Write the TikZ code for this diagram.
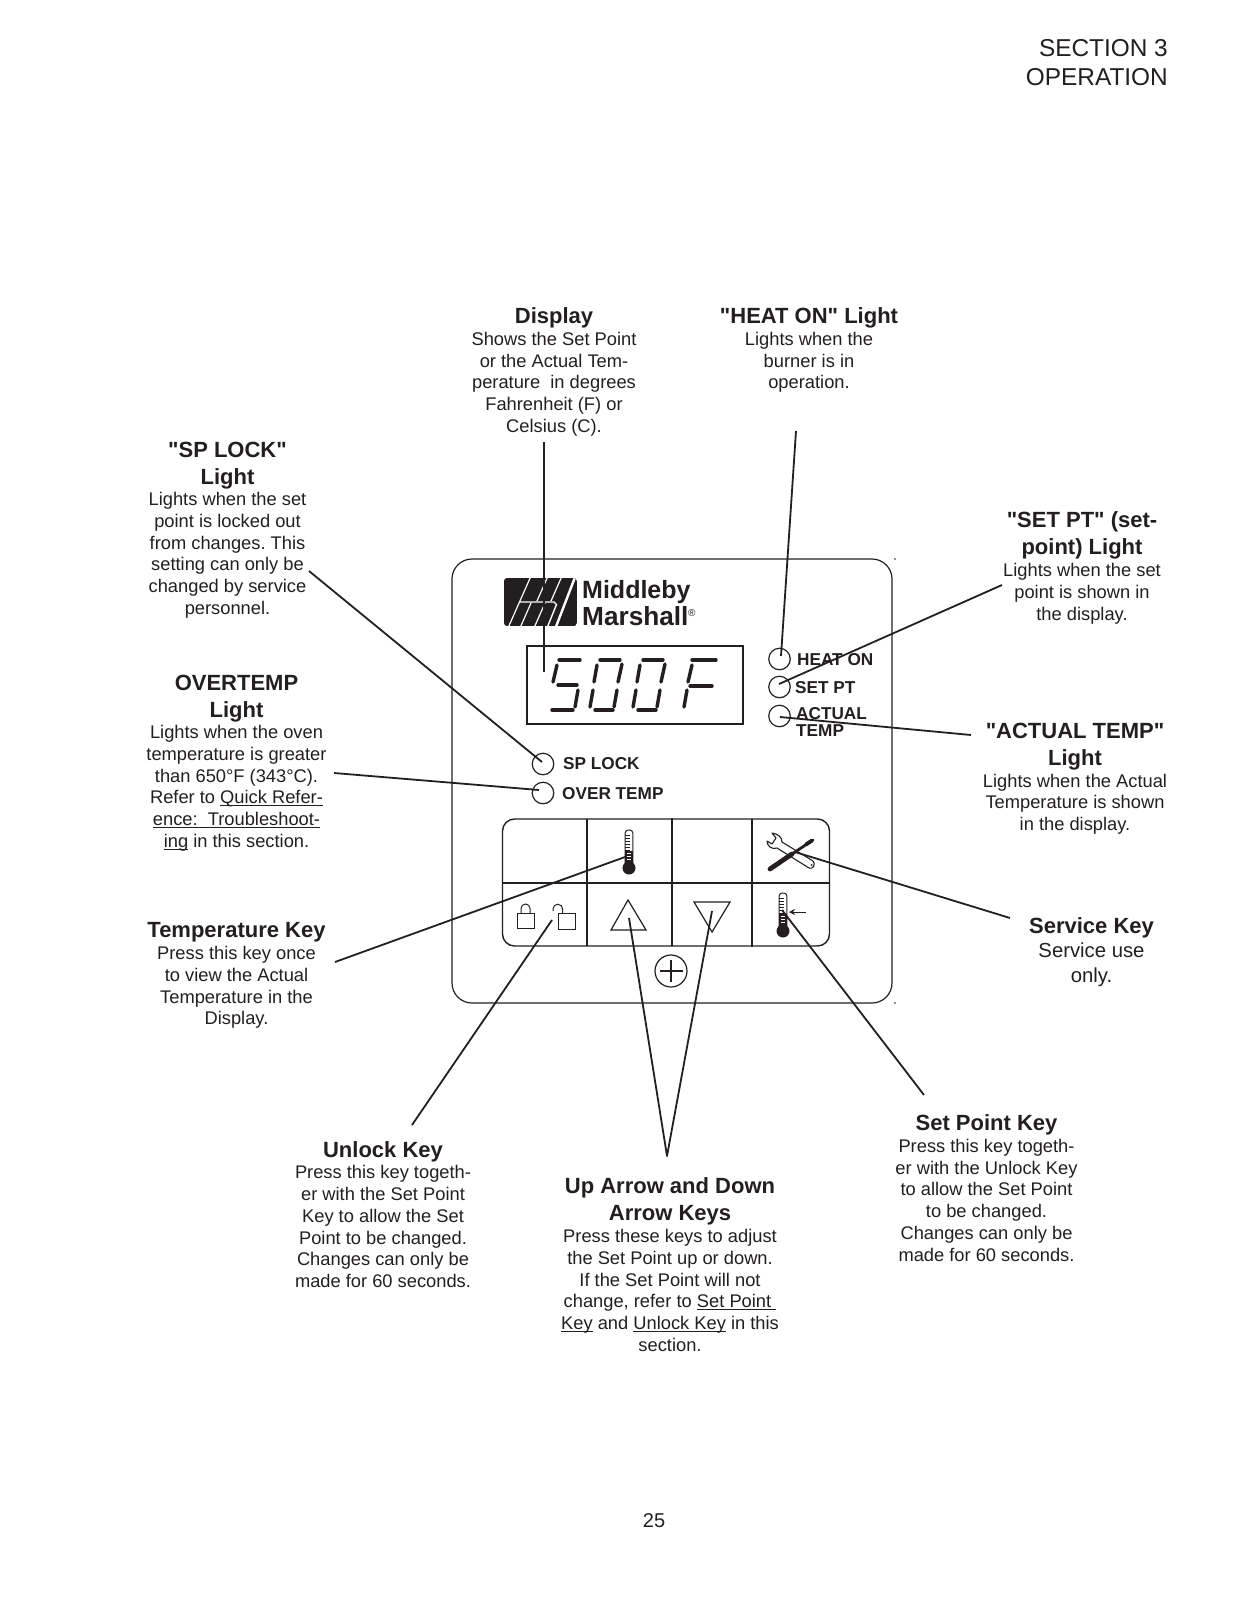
\documentclass[tikz,border=0pt]{standalone}
\usepackage{fontspec}
\usetikzlibrary{arrows.meta}
\setmainfont{Liberation Sans}[Ligatures=TeXOff]
\frenchspacing
\definecolor{ink}{HTML}{231F20}
\newcommand{\hd}[1]{{\fontsize{22}{26}\selectfont\bfseries #1}}
\newsavebox{\ulbox}
\newcommand{\ul}[1]{\sbox{\ulbox}{#1}\rlap{\rule[-2.4pt]{\wd\ulbox}{1.1pt}}\usebox{\ulbox}}
\tikzset{
  block/.style={align=center,anchor=north,inner sep=0pt,text=ink,font=\fontsize{18.3}{21.75}\selectfont},
  lamp/.style={circle,draw=ink,line width=1.2pt,minimum size=21.5pt,inner sep=0pt},
  tag/.style={anchor=base west,inner sep=0pt,text=ink,font=\fontsize{17.2}{17.2}\selectfont\bfseries},
  leader/.style={draw=ink,line width=1.8pt,line join=round},
  keyline/.style={draw=ink,line width=1.4pt},
  seg/.style={draw=ink,line width=3.4pt,line cap=round},
}
\newcommand{\thermo}[3]{% x, top y, bulb y
  \fill[ink] (#1,#3) circle (6.5);
  \draw[ink,line width=1pt,rounded corners=3pt] (#1-3.8,#3-4)--(#1-3.8,#2)--(#1+3.8,#2)--(#1+3.8,#3-4);
  \fill[ink] (#1-3.8,#2+21) rectangle (#1+3.8,#3);
  \foreach \k in {5,8,...,20}{\draw[ink,line width=.6pt] (#1-3.8,#2+\k)--(#1+1,#2+\k);}
  \foreach \k in {23,26,29}{\draw[white,line width=.8pt] (#1-2,#2+\k)--(#1+2,#2+\k);}
}
\newcommand{\digitseg}[1]{%
  \foreach \a/\b/\c/\d in {#1}{\draw[seg] (\a,\b)--(\c,\d);}
}
\begin{document}
\begin{tikzpicture}[x=1pt,y=-1pt]
\useasboundingbox (0,0) rectangle (1237,1600);
\fill[white] (0,0) rectangle (1237,1600);

% header and page number
\node[anchor=north east,align=right,inner sep=0pt,text=ink,font=\fontsize{24.4}{29}\selectfont] (header) at (1168,39) {SECTION 3\\OPERATION};
\node[inner sep=0pt,text=ink,font=\fontsize{20}{24}\selectfont] (pageno) at (654,1521) {25};

% panel
\node[draw=ink,line width=1.2pt,rounded corners=20pt,minimum width=440pt,minimum height=444pt,inner sep=0pt] (panel) at (672,781) {};
\fill[ink] (895,559) circle (.8);
\fill[ink] (895,1003) circle (.8);

% logo
\begin{scope}
\clip[rounded corners=3pt] (504,578) rectangle (577,626);
\fill[ink] (504,578) rectangle (577,626);
\draw[white,line width=2.4pt] (575.5,576)--(555.5,628);
\draw[white,line width=1.2pt] (508,628)--(531,576);
\draw[white,line width=1.2pt] (520,628)--(531,603);
\draw[white,line width=1.2pt] (534,628)--(545,603);
\draw[white,line width=1.2pt] (537,601)--(548,576);
\draw[white,line width=1.2pt] (551,601)--(562,576);
\draw[white,line width=1.4pt] (520,602)--(554,602) -- (556.5,604.5) -- (547,628);
\end{scope}
\node[anchor=base west,inner sep=0pt,text=ink,font=\fontsize{25}{25}\selectfont\bfseries] (logoa) at (582,598.5) {Middleby};
\node[anchor=base west,inner sep=0pt,text=ink,font=\fontsize{26.2}{26.2}\selectfont\bfseries] (logob) at (582,625) {Marshall};
\node[anchor=base west,inner sep=0pt,text=ink,font=\fontsize{10}{10}\selectfont] (logor) at (688,616) {®};

% display
\node[draw=ink,line width=1.2pt,minimum width=216pt,minimum height=78pt,inner sep=0pt] (screen) at (635,685) {};
\digitseg{559/660/580/660, 557/665/553/682, 558/685/577/685, 578/690/575/707, 552/710/573/710}
\digitseg{600/660/620/660, 597/665/594/682, 622/664/618/682, 593/690/590/707, 617/690/614/707, 595/710/613/710}
\digitseg{643/660/663/660, 640/665/637/682, 665/664/661/682, 636/690/633/707, 660/690/657/707, 638/710/656/710}
\digitseg{692/660/716/660, 692/665/688/682, 690/686/712/686, 687/690/684/707}

% lamps and tags
\node[lamp] (lampheat) at (779.5,659) {};
\node[lamp] (lampset) at (779.5,687) {};
\node[lamp] (lampactual) at (779.5,716) {};
\node[lamp] (lampsp) at (543,764) {};
\node[lamp] (lampover) at (543,793) {};
\node[tag] (tagheat) at (797,665) {HEAT ON};
\node[tag] (tagset) at (795,693) {SET PT};
\node[tag] (tagactual) at (796,719) {ACTUAL};
\node[tag] (tagtemp) at (796,736) {TEMP};
\node[tag] (tagsp) at (563,769) {SP LOCK};
\node[tag] (tagover) at (562,799) {OVER TEMP};

% keypad
\node[keyline,draw,rounded corners=12pt,minimum width=327pt,minimum height=127pt,inner sep=0pt] (keypad) at (666,882.5) {};
\draw[keyline] (keypad.west |- 0,883) -- (keypad.east |- 0,883);
\draw[keyline] (587,819)--(587,946);
\draw[keyline] (672,818)--(672,946);
\draw[keyline] (752,819)--(752,947);

\thermo{629}{830}{868}
\thermo{783}{893}{931}
\draw[ink,line width=1pt,-{Stealth[length=6pt,width=6pt]}] (806,912)--(789,912);

% locks
\draw[ink,line width=1pt] (517,913) rectangle (534,928);
\draw[ink,line width=1pt] (521,913)--(521,908.5) arc[start angle=180,end angle=360,radius=4.5] --(530,913);
\draw[ink,line width=1pt] (558,913) rectangle (575,929);
\draw[ink,line width=1pt] (553,911)--(553,909) arc[start angle=180,end angle=360,radius=4.8] --(562.6,913);

% triangles
\draw[ink,line width=1.2pt] (628,900)--(646,930)--(611,930)--cycle;
\draw[ink,line width=1.2pt] (694,902)--(730,902)--(712,932)--cycle;

% plus
\draw[ink,line width=1.2pt] (671,971) circle (16);
\draw[ink,line width=1.4pt] (660,971)--(683,971) (671,960)--(671,982);

% wrench
\draw[ink,line width=1.1pt,fill=white,line join=round] (772,833) .. controls (778,834) and (782,837) .. (782,842) -- (813,861) .. controls (816,864) and (813,870) .. (809,868) -- (777,848) .. controls (772,850) and (767,846) .. (767,841) -- (772,844) -- (776,838) -- cycle;
\fill[ink] (811.5,865) circle (1);
% screwdriver
\draw[ink,line width=2.8pt,line cap=round] (792,854)--(813,840);
\draw[ink,line width=4.8pt,line cap=round] (770,869)--(792,854);
\draw[ink,line width=3.8pt,line cap=round] (806,844.5)--(812,840.5);

% text blocks
\node[block] (tdisplay) at (554,307) {\hd{Display}\\[0.5pt]Shows the Set Point\\or the Actual Tem-\\perature\ \ in degrees\\Fahrenheit (F) or\\Celsius (C).};
\node[block] (theat) at (809,307) {\hd{"HEAT ON" Light}\\[0.5pt]Lights when the\\burner is in\\operation.};
\node[block] (tsp) at (227.5,442) {\hd{"SP LOCK"}\\[5.5pt]\hd{Light}\\[-1pt]Lights when the set\\point is locked out\\from changes. This\\setting can only be\\changed by service\\personnel.};
\node[block] (tsetpt) at (1082,511.5) {\hd{"SET PT" (set-}\\[5.5pt]\hd{point) Light}\\Lights when the set\\point is shown in\\the display.};
\node[block] (tover) at (236.5,675) {\hd{OVERTEMP}\\[5.5pt]\hd{Light}\\[-1pt]Lights when the oven\\temperature is greater\\than 650°F (343°C).\\Refer to \ul{Quick Refer-}\\\ul{ence:\ \ Troubleshoot-}\\\ul{ing} in this section.};
\node[block] (tactual) at (1075,723) {\hd{"ACTUAL TEMP"}\\[5.5pt]\hd{Light}\\[-0.5pt]Lights when the Actual\\Temperature is shown\\in the display.};
\node[block] (ttemp) at (236.5,922) {\hd{Temperature Key}\\[0.5pt]Press this key once\\to view the Actual\\Temperature in the\\Display.};
\node[block,font=\fontsize{20.3}{25}\selectfont] (tservice) at (1091.5,917) {\hd{Service Key}\\[-0.5pt]Service use\\only.};
\node[block] (tunlock) at (383,1141) {\hd{Unlock Key}\\[0pt]Press this key togeth-\\er with the Set Point\\Key to allow the Set\\Point to be changed.\\Changes can only be\\made for 60 seconds.};
\node[block] (tarrows) at (670,1177.5) {\hd{Up Arrow and Down}\\[5.5pt]\hd{Arrow Keys}\\Press these keys to adjust\\the Set Point up or down.\\If the Set Point will not\\change, refer to \ul{Set Point\ }\\\ul{Key} and \ul{Unlock Key} in this\\section.};
\node[block] (tsetkey) at (986.5,1114) {\hd{Set Point Key}\\[0.5pt]Press this key togeth-\\er with the Unlock Key\\to allow the Set Point\\to be changed.\\Changes can only be\\made for 60 seconds.};

% leader ends
\coordinate (ldisplaya) at (544,442); \coordinate (ldisplayb) at (544,672);
\coordinate (lheata) at (796,431);    \coordinate (lheatb) at (781,656);
\coordinate (lseta) at (1002,585);    \coordinate (lsetb) at (779,684);
\coordinate (lacta) at (971,735);     \coordinate (lactb) at (780,717);
\coordinate (lspa) at (309,571);      \coordinate (lspb) at (542,762);
\coordinate (lovera) at (334,773);    \coordinate (loverb) at (539,790);
\coordinate (ltempa) at (335,962);    \coordinate (ltempb) at (625,857);
\coordinate (lunla) at (412,1125);    \coordinate (lunlb) at (552,920);
\coordinate (lapex) at (667,1156);    \coordinate (lupb) at (629,918);
\coordinate (ldownb) at (712,911);
\coordinate (lsetka) at (924,1095);   \coordinate (lsetkb) at (782,910);
\coordinate (lserva) at (1010,918);   \coordinate (lservb) at (795,852);

\draw[leader] (ldisplaya)--(ldisplayb);
\draw[leader] (lheata)--(lheatb);
\draw[leader] (lseta)--(lsetb);
\draw[leader] (lacta)--(lactb);
\draw[leader] (lspa)--(lspb);
\draw[leader] (lovera)--(loverb);
\draw[leader] (ltempa)--(ltempb);
\draw[leader] (lunla)--(lunlb);
\draw[leader] (lupb)--(lapex)--(ldownb);
\draw[leader] (lsetka)--(lsetkb);
\draw[leader] (lserva)--(lservb);
\end{tikzpicture}
\end{document}
